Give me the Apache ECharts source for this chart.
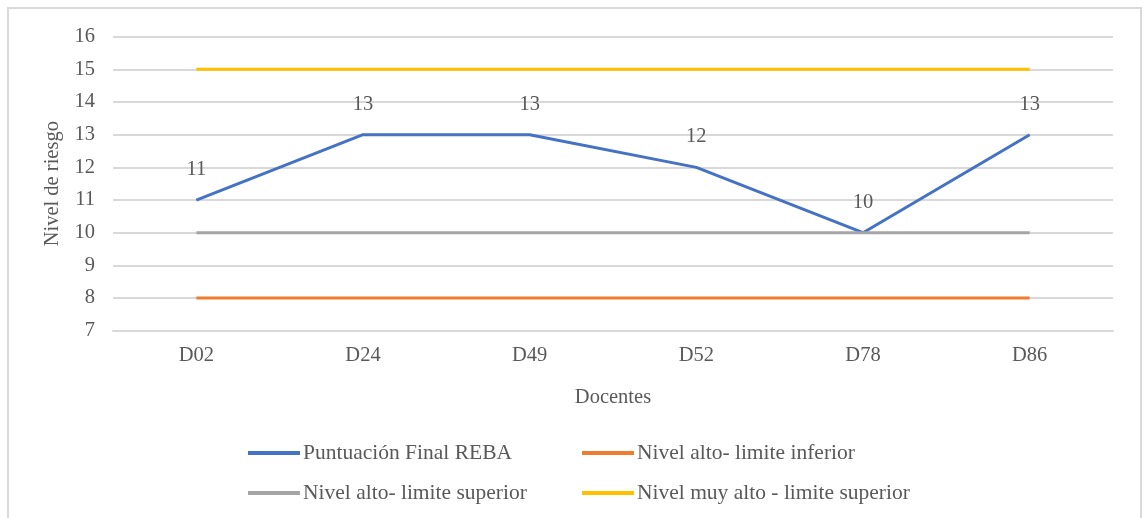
<!DOCTYPE html>
<html>
<head>
<meta charset="utf-8">
<script src="https://cdn.jsdelivr.net/npm/echarts@6/dist/echarts.min.js"></script>
<style>
  html, body { margin: 0; padding: 0; background: #fff; }
  #frame { position: absolute; left: 7px; top: 7px; width: 1135px; height: 520px; border: 2px solid #d9d9d9; box-sizing: border-box; }
  #chart { position: absolute; left: 0; top: 0; width: 1144px; height: 518px; }
</style>
</head>
<body>
<div id="frame"></div>
<div id="chart"></div>
<script>
// Docentes evaluados
const categories = ['D02', 'D24', 'D49', 'D52', 'D78', 'D86'];
// Puntuación final REBA por docente
const rebaScores = [11, 13, 13, 12, 10, 13];
// Umbrales de nivel de riesgo
const altoInferior = [8, 8, 8, 8, 8, 8];
const altoSuperior = [10, 10, 10, 10, 10, 10];
const muyAltoSuperior = [15, 15, 15, 15, 15, 15];
const yTicks = { min: 7, max: 16, interval: 1 };

const seriesNames = [
  'Puntuación Final REBA',
  'Nivel alto- limite inferior',
  'Nivel alto- limite superior',
  'Nivel muy alto - limite superior'
];
const colors = ['#4472C4', '#ED7D31', '#A5A5A5', '#FFC000'];

const FONT = '"Liberation Serif", "Times New Roman", serif';
const TEXT = '#595959';

const chart = echarts.init(document.getElementById('chart'), null, { renderer: 'canvas' });

function lineSeries(name, data, color, withLabels) {
  return {
    name: name,
    type: 'line',
    data: data,
    color: color,
    symbol: 'circle',
    symbolSize: 0.1,
    showSymbol: true,
    lineStyle: { width: 3, color: color },
    itemStyle: { color: color },
    label: withLabels ? {
      show: true,
      position: 'top',
      distance: 20,
      color: TEXT,
      fontFamily: FONT,
      fontSize: 20.5
    } : { show: false },
    emphasis: { disabled: true },
    animation: false
  };
}

const legendCommon = {
  orient: 'vertical',
  icon: 'rect',
  itemWidth: 52,
  itemHeight: 4,
  itemGap: 18,
  textStyle: { color: TEXT, fontFamily: FONT, fontSize: 21.5, padding: [0, 0, 0, -2] },
  selectedMode: false
};

chart.setOption({
  animation: false,
  backgroundColor: 'transparent',
  grid: { left: 113, right: 31, top: 36.7, bottom: 187.3, containLabel: false },
  legend: [
    Object.assign({}, legendCommon, { left: 243, top: 437, data: [seriesNames[0], seriesNames[2]] }),
    Object.assign({}, legendCommon, { left: 577, top: 437, data: [seriesNames[1], seriesNames[3]] })
  ],
  xAxis: {
    type: 'category',
    data: categories,
    boundaryGap: true,
    name: 'Docentes',
    nameLocation: 'middle',
    nameGap: 56,
    nameTextStyle: { color: TEXT, fontFamily: FONT, fontSize: 20.5 },
    axisLine: { show: true, lineStyle: { color: '#d9d9d9', width: 2 } },
    axisTick: { show: false },
    axisLabel: { color: TEXT, fontFamily: FONT, fontSize: 20.5, margin: 14 }
  },
  yAxis: {
    type: 'value',
    min: yTicks.min,
    max: yTicks.max,
    interval: yTicks.interval,
    name: 'Nivel de riesgo',
    nameLocation: 'middle',
    nameRotate: 90,
    nameGap: 46,
    nameTextStyle: { color: TEXT, fontFamily: FONT, fontSize: 20.5 },
    axisLine: { show: false },
    axisTick: { show: false },
    axisLabel: { color: TEXT, fontFamily: FONT, fontSize: 20.5, margin: 18 },
    splitLine: { show: true, lineStyle: { color: '#d9d9d9', width: 2 } }
  },
  series: [
    lineSeries(seriesNames[0], rebaScores, colors[0], true),
    lineSeries(seriesNames[1], altoInferior, colors[1], false),
    lineSeries(seriesNames[2], altoSuperior, colors[2], false),
    lineSeries(seriesNames[3], muyAltoSuperior, colors[3], false)
  ]
});
</script>
</body>
</html>
